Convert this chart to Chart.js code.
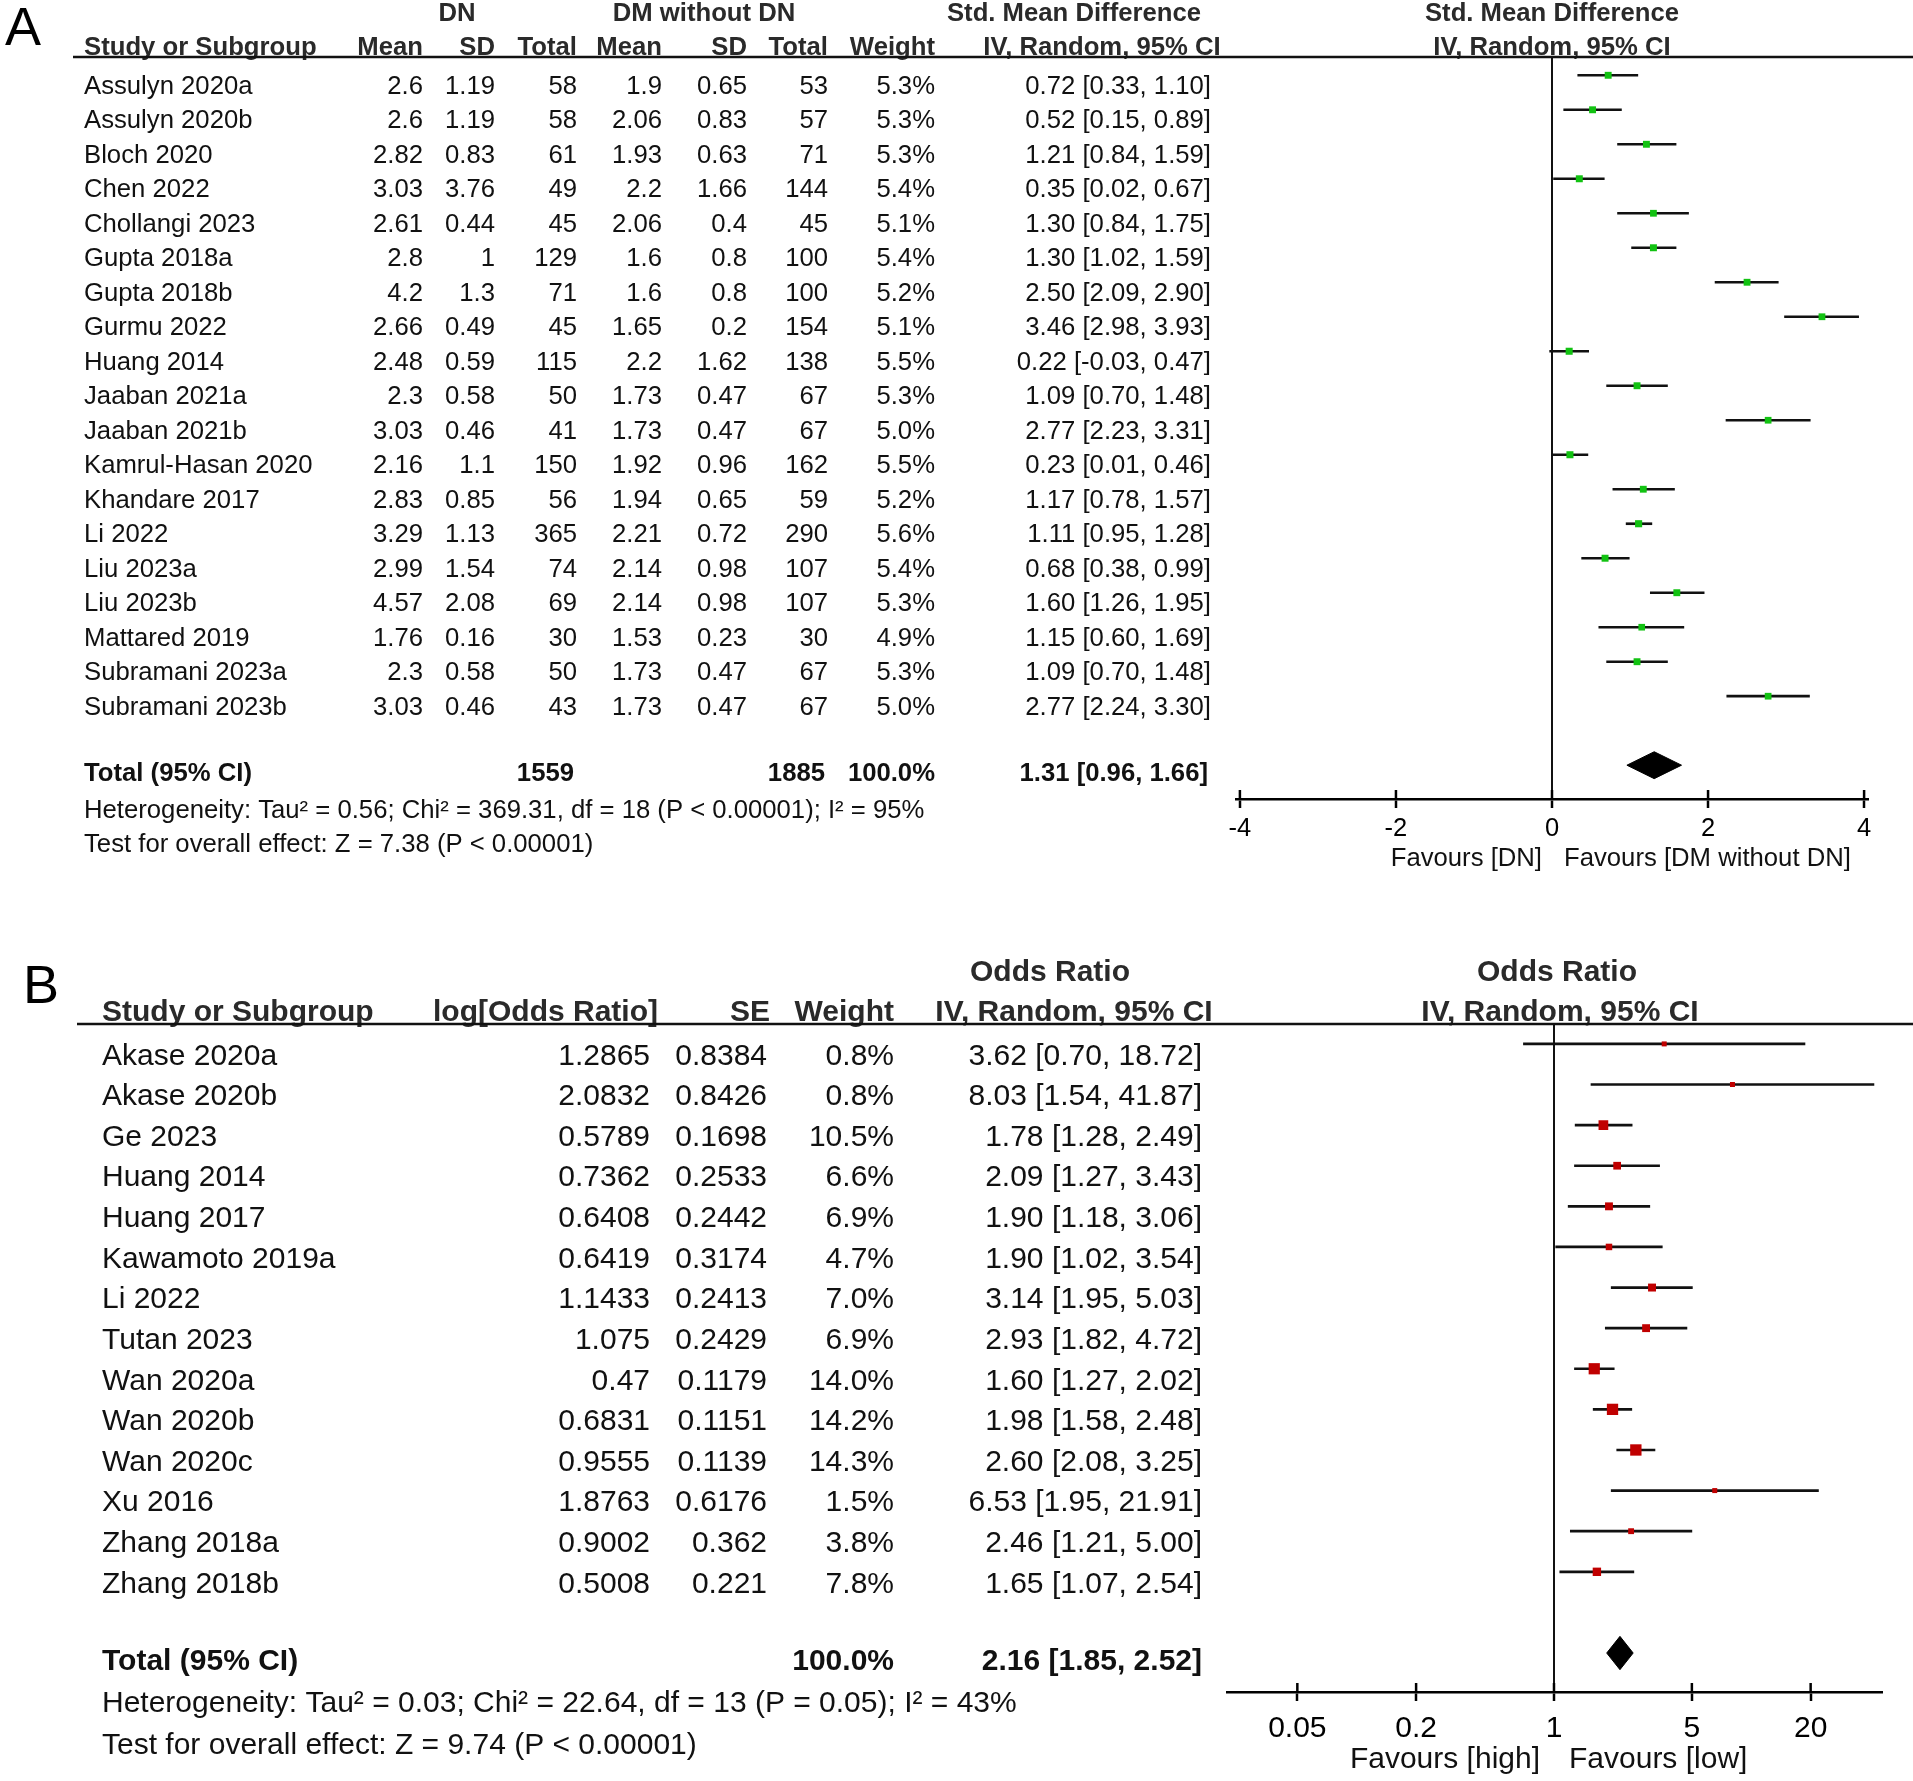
<!DOCTYPE html>
<html>
<head>
<meta charset="utf-8">
<script src="https://cdn.jsdelivr.net/npm/chart.js@4.4.1/dist/chart.umd.min.js"></script>
<style>
  body { margin: 0; background: #fff; }
  #wrap { position: relative; width: 1913px; height: 1781px; }
  canvas { position: absolute; left: 0; }
  #chartA { top: 0; }
  #chartB { top: 890px; }
</style>
</head>
<body>
<div id="wrap">
  <canvas id="chartA" width="1913" height="890"></canvas>
  <canvas id="chartB" width="1913" height="891"></canvas>
</div>
<script>
// ---- panel A : DN vs DM without DN ----
const studiesA = ['Assulyn 2020a', 'Assulyn 2020b', 'Bloch 2020', 'Chen 2022', 'Chollangi 2023', 'Gupta 2018a',
  'Gupta 2018b', 'Gurmu 2022', 'Huang 2014', 'Jaaban 2021a', 'Jaaban 2021b', 'Kamrul-Hasan 2020', 'Khandare 2017',
  'Li 2022', 'Liu 2023a', 'Liu 2023b', 'Mattared 2019', 'Subramani 2023a', 'Subramani 2023b'];
const dnMean = [2.6, 2.6, 2.82, 3.03, 2.61, 2.8, 4.2, 2.66, 2.48, 2.3, 3.03, 2.16, 2.83, 3.29, 2.99, 4.57, 1.76, 2.3, 3.03];
const dnSD = [1.19, 1.19, 0.83, 3.76, 0.44, 1, 1.3, 0.49, 0.59, 0.58, 0.46, 1.1, 0.85, 1.13, 1.54, 2.08, 0.16, 0.58, 0.46];
const dnTotal = [58, 58, 61, 49, 45, 129, 71, 45, 115, 50, 41, 150, 56, 365, 74, 69, 30, 50, 43];
const dmMean = [1.9, 2.06, 1.93, 2.2, 2.06, 1.6, 1.6, 1.65, 2.2, 1.73, 1.73, 1.92, 1.94, 2.21, 2.14, 2.14, 1.53, 1.73, 1.73];
const dmSD = [0.65, 0.83, 0.63, 1.66, 0.4, 0.8, 0.8, 0.2, 1.62, 0.47, 0.47, 0.96, 0.65, 0.72, 0.98, 0.98, 0.23, 0.47, 0.47];
const dmTotal = [53, 57, 71, 144, 45, 100, 100, 154, 138, 67, 67, 162, 59, 290, 107, 107, 30, 67, 67];
const weightA = [5.3, 5.3, 5.3, 5.4, 5.1, 5.4, 5.2, 5.1, 5.5, 5.3, 5.0, 5.5, 5.2, 5.6, 5.4, 5.3, 4.9, 5.3, 5.0];
const smdA = [0.72, 0.52, 1.21, 0.35, 1.30, 1.30, 2.50, 3.46, 0.22, 1.09, 2.77, 0.23, 1.17, 1.11, 0.68, 1.60, 1.15, 1.09, 2.77];
const smdLowA = [0.33, 0.15, 0.84, 0.02, 0.84, 1.02, 2.09, 2.98, -0.03, 0.70, 2.23, 0.01, 0.78, 0.95, 0.38, 1.26, 0.60, 0.70, 2.24];
const smdHighA = [1.10, 0.89, 1.59, 0.67, 1.75, 1.59, 2.90, 3.93, 0.47, 1.48, 3.31, 0.46, 1.57, 1.28, 0.99, 1.95, 1.69, 1.48, 3.30];
const totalsA = [1559, 1885];
const pooledA = [1.31, 0.96, 1.66]; // est, low, high
const ticksA = [-4, -2, 0, 2, 4];

// ---- panel B : odds ratios ----
const studiesB = ['Akase 2020a', 'Akase 2020b', 'Ge 2023', 'Huang 2014', 'Huang 2017', 'Kawamoto 2019a', 'Li 2022',
  'Tutan 2023', 'Wan 2020a', 'Wan 2020b', 'Wan 2020c', 'Xu 2016', 'Zhang 2018a', 'Zhang 2018b'];
const logOR = [1.2865, 2.0832, 0.5789, 0.7362, 0.6408, 0.6419, 1.1433, 1.075, 0.47, 0.6831, 0.9555, 1.8763, 0.9002, 0.5008];
const seB = [0.8384, 0.8426, 0.1698, 0.2533, 0.2442, 0.3174, 0.2413, 0.2429, 0.1179, 0.1151, 0.1139, 0.6176, 0.362, 0.221];
const weightB = [0.8, 0.8, 10.5, 6.6, 6.9, 4.7, 7.0, 6.9, 14.0, 14.2, 14.3, 1.5, 3.8, 7.8];
const orB = [3.62, 8.03, 1.78, 2.09, 1.90, 1.90, 3.14, 2.93, 1.60, 1.98, 2.60, 6.53, 2.46, 1.65];
const orLowB = [0.70, 1.54, 1.28, 1.27, 1.18, 1.02, 1.95, 1.82, 1.27, 1.58, 2.08, 1.95, 1.21, 1.07];
const orHighB = [18.72, 41.87, 2.49, 3.43, 3.06, 3.54, 5.03, 4.72, 2.02, 2.48, 3.25, 21.91, 5.00, 2.54];
const pooledB = [2.16, 1.85, 2.52];
const ticksB = [0.05, 0.2, 1, 5, 20];

const FONT = "'Liberation Sans', Arial, sans-serif";
const TXT = '#111';
const HEAD = '#2a2a2a';

function put(ctx, s, x, y, align, size, bold, color) {
  ctx.font = (bold ? 'bold ' : '') + size + 'px ' + FONT;
  ctx.textAlign = align;
  ctx.textBaseline = 'middle';
  ctx.fillStyle = color || TXT;
  ctx.fillText(s, x, y);
}
function hline(ctx, x1, x2, y, w) {
  ctx.beginPath();
  ctx.moveTo(x1, y);
  ctx.lineTo(x2, y);
  ctx.lineWidth = w;
  ctx.strokeStyle = '#111';
  ctx.stroke();
}
function ci(est, lo, hi) {
  return est.toFixed(2) + ' [' + lo.toFixed(2) + ', ' + hi.toFixed(2) + ']';
}
// ticks cross the axis line: chart.js draws the lower half, this the upper half
function upperTicks(chart) {
  const ctx = chart.ctx, xs = chart.scales.x, b = chart.chartArea.bottom;
  ctx.save();
  ctx.strokeStyle = '#000';
  ctx.lineWidth = 2.5;
  xs.ticks.forEach(t => {
    const px = xs.getPixelForValue(t.value);
    ctx.beginPath();
    ctx.moveTo(px, b - 9);
    ctx.lineTo(px, b);
    ctx.stroke();
  });
  ctx.restore();
}

const tableA = {
  id: 'tableA',
  afterDraw(chart) {
    const ctx = chart.ctx, ys = chart.scales.y;
    const f = 25.7;
    const rowY = i => ys.getPixelForValue(i) + 11.5;
    ctx.save();
    put(ctx, 'A', 5, 30, 'left', 54, false, '#000');
    put(ctx, 'DN', 457, 14, 'center', f, true, HEAD);
    put(ctx, 'DM without DN', 704, 14, 'center', f, true, HEAD);
    put(ctx, 'Std. Mean Difference', 1074, 14, 'center', f, true, HEAD);
    put(ctx, 'Std. Mean Difference', 1552, 14, 'center', f, true, HEAD);
    put(ctx, 'Study or Subgroup', 84, 48, 'left', f, true, HEAD);
    [['Mean', 423], ['SD', 495], ['Total', 577], ['Mean', 662], ['SD', 747], ['Total', 828], ['Weight', 935]]
      .forEach(h => put(ctx, h[0], h[1], 48, 'right', f, true, HEAD));
    put(ctx, 'IV, Random, 95% CI', 1102, 48, 'center', f, true, HEAD);
    put(ctx, 'IV, Random, 95% CI', 1552, 48, 'center', f, true, HEAD);
    hline(ctx, 73, 1913, 57, 2.5);

    studiesA.forEach((s, i) => {
      const y = rowY(i);
      put(ctx, s, 84, y, 'left', f);
      put(ctx, String(dnMean[i]), 423, y, 'right', f);
      put(ctx, String(dnSD[i]), 495, y, 'right', f);
      put(ctx, String(dnTotal[i]), 577, y, 'right', f);
      put(ctx, String(dmMean[i]), 662, y, 'right', f);
      put(ctx, String(dmSD[i]), 747, y, 'right', f);
      put(ctx, String(dmTotal[i]), 828, y, 'right', f);
      put(ctx, weightA[i].toFixed(1) + '%', 935, y, 'right', f);
      put(ctx, ci(smdA[i], smdLowA[i], smdHighA[i]), 1211, y, 'right', f);
    });
    const ty = ys.getPixelForValue(20) + 9;
    put(ctx, 'Total (95% CI)', 84, ty, 'left', f, true);
    put(ctx, String(totalsA[0]), 574, ty, 'right', f, true);
    put(ctx, String(totalsA[1]), 825, ty, 'right', f, true);
    put(ctx, '100.0%', 935, ty, 'right', f, true);
    put(ctx, ci(pooledA[0], pooledA[1], pooledA[2]), 1208, ty, 'right', f, true);
    put(ctx, 'Heterogeneity: Tau\u00b2 = 0.56; Chi\u00b2 = 369.31, df = 18 (P < 0.00001); I\u00b2 = 95%', 84, 811, 'left', f);
    put(ctx, 'Test for overall effect: Z = 7.38 (P < 0.00001)', 84, 845, 'left', f);
    put(ctx, 'Favours [DN]', 1542, 859, 'right', f);
    put(ctx, 'Favours [DM without DN]', 1564, 859, 'left', f);
    ctx.restore();
    upperTicks(chart);
  }
};

const tableB = {
  id: 'tableB',
  afterDraw(chart) {
    const ctx = chart.ctx, ys = chart.scales.y;
    const f = 30;
    const rowY = i => ys.getPixelForValue(i) + 12.5;
    ctx.save();
    put(ctx, 'B', 23, 98, 'left', 54, false, '#000');
    put(ctx, 'Odds Ratio', 1050, 83, 'center', f, true, HEAD);
    put(ctx, 'Odds Ratio', 1557, 83, 'center', f, true, HEAD);
    put(ctx, 'Study or Subgroup', 102, 123, 'left', f, true, HEAD);
    put(ctx, 'log[Odds Ratio]', 658, 123, 'right', f, true, HEAD);
    put(ctx, 'SE', 770, 123, 'right', f, true, HEAD);
    put(ctx, 'Weight', 894, 123, 'right', f, true, HEAD);
    put(ctx, 'IV, Random, 95% CI', 1074, 123, 'center', f, true, HEAD);
    put(ctx, 'IV, Random, 95% CI', 1560, 123, 'center', f, true, HEAD);
    hline(ctx, 77, 1913, 134, 2.5);

    studiesB.forEach((s, i) => {
      const y = rowY(i);
      put(ctx, s, 102, y, 'left', f);
      put(ctx, String(logOR[i]), 650, y, 'right', f);
      put(ctx, String(seB[i]), 767, y, 'right', f);
      put(ctx, weightB[i].toFixed(1) + '%', 894, y, 'right', f);
      put(ctx, ci(orB[i], orLowB[i], orHighB[i]), 1202, y, 'right', f);
    });
    const ty = ys.getPixelForValue(15) + 9;
    put(ctx, 'Total (95% CI)', 102, ty, 'left', f, true);
    put(ctx, '100.0%', 894, ty, 'right', f, true);
    put(ctx, ci(pooledB[0], pooledB[1], pooledB[2]), 1202, ty, 'right', f, true);
    put(ctx, 'Heterogeneity: Tau\u00b2 = 0.03; Chi\u00b2 = 22.64, df = 13 (P = 0.05); I\u00b2 = 43%', 102, 814, 'left', f);
    put(ctx, 'Test for overall effect: Z = 9.74 (P < 0.00001)', 102, 856, 'left', f);
    put(ctx, 'Favours [high]', 1540, 870, 'right', f);
    put(ctx, 'Favours [low]', 1569, 870, 'left', f);
    ctx.restore();
    upperTicks(chart);
  }
};

function forest(id, o) {
  const diamond = [
    {x: o.pooled[1], y: o.pooledRow},
    {x: o.pooled[0], y: o.pooledRow - o.half},
    {x: o.pooled[2], y: o.pooledRow},
    {x: o.pooled[0], y: o.pooledRow + o.half},
    {x: o.pooled[1], y: o.pooledRow}
  ];
  return new Chart(document.getElementById(id), {
    type: 'scatter',
    data: {
      datasets: [
        {
          type: 'bar', indexAxis: 'y',
          data: o.est.map((v, i) => ({x: [o.lo[i], o.hi[i]], y: i})),
          backgroundColor: '#111', barThickness: 2, borderWidth: 0, order: 2
        },
        {
          type: 'scatter',
          data: o.est.map((v, i) => ({x: v, y: i})),
          pointStyle: 'rect',
          pointRadius: o.weights.map(w => Math.max(5, 3.0 * Math.sqrt(w)) / Math.SQRT2),
          backgroundColor: o.color, borderWidth: 0, order: 0
        },
        {
          type: 'line', data: diamond, fill: 'shape',
          backgroundColor: '#000', borderColor: '#000', borderWidth: 1,
          pointRadius: 0, tension: 0, order: 1
        }
      ]
    },
    options: {
      responsive: false,
      animation: false,
      events: [],
      layout: {padding: {top: o.top, left: o.left, right: o.right, bottom: 0}},
      plugins: {legend: {display: false}, tooltip: {enabled: false}},
      scales: {
        x: {
          type: o.xType, min: o.min, max: o.max, offset: false,
          afterBuildTicks: s => { s.ticks = o.ticks.map(v => ({value: v})); },
          afterFit: s => { s.height = o.xHeight; },
          ticks: {
            autoSkip: false, maxRotation: 0, padding: o.tickPad, color: '#000',
            font: {family: FONT, size: o.tickSize},
            callback: v => String(v)
          },
          grid: {
            drawOnChartArea: true, offset: false,
            color: c => (c.tick && c.tick.value === o.nullValue) ? '#111' : 'rgba(0,0,0,0)',
            lineWidth: 2, tickLength: 9, tickColor: '#000', tickWidth: 2.5
          },
          border: {display: true, color: '#000', width: 2.5}
        },
        y: {
          type: 'linear', display: false, reverse: true, offset: false,
          grid: {offset: false}, min: o.yMin, max: o.yMax
        }
      }
    },
    plugins: [o.table]
  });
}

forest('chartA', {
  xType: 'linear', min: -4.05, max: 4.05, ticks: ticksA, nullValue: 0,
  est: smdA, lo: smdLowA, hi: smdHighA, weights: weightA, color: '#12c212',
  pooled: pooledA, pooledRow: 20, half: 0.39,
  top: 57, left: 1236, right: 45, xHeight: 91, tickPad: 6, tickSize: 25.5,
  yMin: -0.53, yMax: 20.98, table: tableA
});

forest('chartB', {
  xType: 'logarithmic', min: 0.022, max: 46, ticks: ticksB, nullValue: 1,
  est: orB, lo: orLowB, hi: orHighB, weights: weightB, color: '#c00000',
  pooled: pooledB, pooledRow: 15, half: 0.41,
  top: 134, left: 1227, right: 31, xHeight: 89, tickPad: 10, tickSize: 30,
  yMin: -0.49, yMax: 15.96, table: tableB
});
</script>
</body>
</html>
